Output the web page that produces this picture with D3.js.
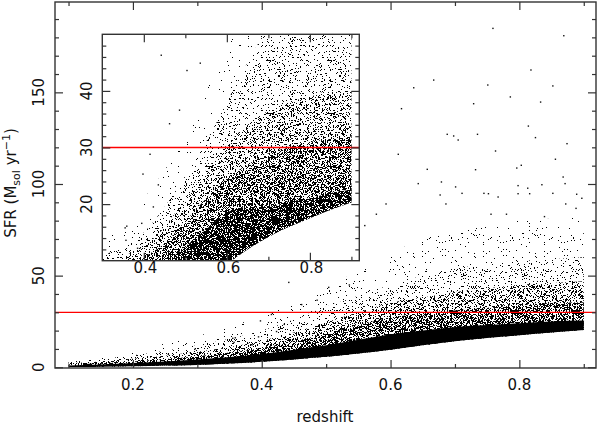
<!DOCTYPE html>
<html><head><meta charset="utf-8">
<script src="https://cdn.jsdelivr.net/npm/d3@7"></script>
<style>html,body{margin:0;padding:0;background:#fff;} svg{display:block;font-family:"DejaVu Sans",sans-serif;}</style>
</head><body><svg id="c" width="598" height="425"></svg>
<script>
// ---------------- data ----------------
// redshift grid on which the edges of the point cloud were read
const redshiftGrid = [0.10,0.15,0.20,0.25,0.30,0.35,0.40,0.45,0.50,0.55,0.60,0.65,0.70,0.75,0.80,0.85,0.90];
// sharp lower edge of the SFR cloud
const sfrLowerEdge = [0.1,0.3,0.5,0.9,1.3,2.0,3.0,4.3,5.7,7.5,9.5,12.0,14.2,16.0,17.5,19.0,20.3];
// main panel: upper limits of the density zones of the cloud (solid, dense, medium, sparse, faint)
const mainCoreTop   = [1.0,1.5,2.3,3.2,4.3,5.6,7.2,9.5,12,15,18,20,22,23,24,25,25.5];
const mainDenseTop  = [1.5,2.2,3.2,4.5,6.0,8.0,10.5,14,18.5,23,27,29.5,31,32.5,34,35,35.5];
const mainMediumTop = [2.2,3.2,4.6,6.3,8.5,11,14.5,19,24.5,30,35,38,41,43,45,46,47];
const mainSparseTop = [3.0,4.5,6.5,9,12,15.5,20,26,33,39,45,50,54,56,58,59,60];
const mainFaintTop  = [4.0,6.0,9.0,13,17,22,28,35,43,53,62,70,75,78,80,81,82];
// inset panel (zoomed view): upper limits of the density zones
const insetCoreTop   = [0.8,1.2,1.8,2.5,3.5,5,7,9.5,12.5,15.5,18.5,19.5,19.5,20.5,21,22,22.5];
const insetDenseTop  = [1,1.5,2.2,3,4.5,6.5,10.5,13,17,21,24.5,27,29,30,31,31.5,32];
const insetMediumTop = [1.5,2,3,4,6,10.5,12.5,16,21,26,30.5,34,36.5,38,39,40,40];
const insetSparseTop = [2,3,4,5.5,10.5,12.5,15,19.5,25,31,38,45,51,53,53,53,53];
const insetFaintTop  = [3,4.5,6.5,9,13,17,21,26,32,40,48,56,70,75,80,81,82];
// isolated points outside the cloud
const outlierZ   = [0.759,0.869,0.667,0.636,0.751,0.852,0.818,0.786,0.833,0.729,0.617,0.814,0.688,0.698,0.705,0.735,0.825,0.874,0.612,0.763,0.856,0.657,0.732,0.796,0.803,0.868,0.643,0.679,0.701,0.798,0.813,0.835,0.871,0.677,0.711,0.745,0.752,0.767,0.798,0.816,0.852,0.889,0.897,0.593,0.686,0.756,0.780,0.578,0.560,0.839,0.872,0.888,
                    0.442,0.504,0.536,0.486,0.462,0.415,0.398,0.435,0.423,0.395,0.359,0.357,0.385,0.355,0.255,0.296];
const outlierSFR = [184.9,180.9,156.7,152.5,154.0,153.5,162.2,147.5,144.7,143.8,141.1,131.6,127.1,126.2,124.0,127.1,125.3,122.0,116.2,118.0,113.5,108.0,107.8,108.7,110.2,103.8,100.2,101.1,98.4,99.1,97.7,99.6,100.2,94.0,94.9,94.9,94.7,92.9,94.7,94.7,94.9,94.4,92.2,89.1,89.1,83.5,83.5,83.5,77.3,82.2,89.1,86.7,
                    46.3,43.6,44.9,36.6,34.2,28.8,25.3,23.4,19.5,16.6,16.1,13.6,12.2,15.8,7.0,9.8];
const sfrCut = 30;
// ticks
const mainXMajor = [0.2,0.4,0.6,0.8];
const mainXMinor = [0.1,0.3,0.5,0.7,0.9];
const mainYMajor = [0,50,100,150];
const mainYMinor = [10,20,30,40,60,70,80,90,110,120,130,140,160,170,180,190];
const insetXMajor = [0.4,0.6,0.8];
const insetXMinor = [0.5,0.7,0.9];
const insetYMajor = [20,30,40];
const insetYMinor = [12,14,16,18,22,24,26,28,32,34,36,38,42,44,46,48];
const xTitle = "redshift";

// ---------------- drawing ----------------
const svg = d3.select("#c");
const defs = svg.append("defs");
const M = {l:55, r:596, t:2, b:368};
const I = {l:102.3, r:359.3, t:34.3, b:260.7};
const mx = d3.scaleLinear([0.079,0.919],[M.l,M.r]);
const my = d3.scaleLinear([-0.4,199.3],[M.b,M.t]);
const ix = d3.scaleLinear([0.3,0.919],[I.l,I.r]);
const iy = d3.scaleLinear([10,50],[I.b,I.t]);

// dot texture used to render the point density (style only)
function hash(n){ n = Math.imul(n ^ (n>>>16), 0x45d9f3b); n = Math.imul(n ^ (n>>>16), 0x45d9f3b); return (n ^ (n>>>16))>>>0; }
function texture(id, coverage, seed){
  const W=61,H=53,A=W*H;
  const n = Math.round(-A*Math.log(1-coverage));
  let d="";
  for(let i=0;i<n;i++){
    const px = hash(i*7919 + seed*104729 + 1) % W;
    const py = hash(i*6271 + seed*130363 + 7) % H;
    d += `M${px} ${py}h1v1h-1z`;
  }
  const p = defs.append("pattern").attr("id",id).attr("patternUnits","userSpaceOnUse").attr("width",W).attr("height",H);
  p.append("path").attr("d",d).attr("fill","#000").attr("shape-rendering","crispEdges");
}
texture("tFaint",0.025,1); texture("tSparse",0.077,2); texture("tMedium",0.22,3);
texture("tDenseM",0.36,4); texture("tDenseI",0.30,5); texture("tCoreI",0.55,6);
texture("tFaint2",0.012,11); texture("tSparse2",0.09,12); texture("tMedium2",0.167,13);

defs.append("clipPath").attr("id","clipM").append("rect").attr("x",M.l).attr("y",M.t).attr("width",M.r-M.l).attr("height",M.b-M.t);
defs.append("clipPath").attr("id","clipI").append("rect").attr("x",I.l).attr("y",I.t).attr("width",I.r-I.l).attr("height",I.b-I.t);

function drawCloud(g, X, Y, layers){
  layers.forEach(([top, fill])=>{
    const data = redshiftGrid.map((z,i)=>({z, lo:sfrLowerEdge[i], hi:top[i]}));
    const area = d3.area().x(d=>X(d.z)).y0(d=>Y(d.lo)).y1(d=>Y(d.hi)).curve(d3.curveMonotoneX);
    g.append("path").attr("d",area(data)).attr("fill",fill);
  });
  const pts = outlierZ.map((z,i)=>({z, s:outlierSFR[i]}));
  g.selectAll("rect.o").data(pts).join("rect").attr("class","o")
    .attr("x",d=>X(d.z)-0.7).attr("y",d=>Y(d.s)-0.7).attr("width",1.4).attr("height",1.4).attr("fill","#111");
}

function frameAxes(X, Y, B, xMaj, xMin, yMaj, yMin){
  const tk = (g)=>{ g.select(".domain").remove(); g.selectAll("line").attr("stroke","#333").attr("stroke-width",1.2); };
  svg.append("g").attr("transform",`translate(0,${B.b})`).call(d3.axisBottom(X).tickValues(xMaj).tickSize(-8).tickFormat("")).call(tk);
  svg.append("g").attr("transform",`translate(0,${B.b})`).call(d3.axisBottom(X).tickValues(xMin).tickSize(-4).tickFormat("")).call(tk);
  svg.append("g").attr("transform",`translate(0,${B.t})`).call(d3.axisTop(X).tickValues(xMaj).tickSize(-8).tickFormat("")).call(tk);
  svg.append("g").attr("transform",`translate(0,${B.t})`).call(d3.axisTop(X).tickValues(xMin).tickSize(-4).tickFormat("")).call(tk);
  svg.append("g").attr("transform",`translate(${B.l},0)`).call(d3.axisLeft(Y).tickValues(yMaj).tickSize(-8).tickFormat("")).call(tk);
  svg.append("g").attr("transform",`translate(${B.l},0)`).call(d3.axisLeft(Y).tickValues(yMin).tickSize(-4).tickFormat("")).call(tk);
  svg.append("g").attr("transform",`translate(${B.r},0)`).call(d3.axisRight(Y).tickValues(yMaj).tickSize(-8).tickFormat("")).call(tk);
  svg.append("g").attr("transform",`translate(${B.r},0)`).call(d3.axisRight(Y).tickValues(yMin).tickSize(-4).tickFormat("")).call(tk);
  svg.append("rect").attr("x",B.l).attr("y",B.t).attr("width",B.r-B.l).attr("height",B.b-B.t)
    .attr("fill","none").attr("stroke","#333").attr("stroke-width",1.4);
}

// ---- main panel ----
const gm = svg.append("g").attr("clip-path","url(#clipM)");
drawCloud(gm, mx, my, [[mainFaintTop,"url(#tFaint)"],[mainSparseTop,"url(#tSparse)"],[mainMediumTop,"url(#tMedium)"],[mainDenseTop,"url(#tDenseM)"],[mainCoreTop,"#000"]]);
gm.append("line").attr("x1",M.l).attr("x2",M.r).attr("y1",my(sfrCut)).attr("y2",my(sfrCut)).attr("stroke","#ff0000").attr("stroke-width",1.3);
frameAxes(mx, my, M, mainXMajor, mainXMinor, mainYMajor, mainYMinor);

const fmt = d3.format(".1f");
svg.append("g").selectAll("text").data(mainXMajor).join("text")
  .attr("x",d=>mx(d)).attr("y",390).attr("text-anchor","middle").attr("font-size",15).attr("fill","#111").text(fmt);
svg.append("g").selectAll("text").data(mainYMajor).join("text")
  .attr("transform",d=>`translate(43.5,${my(d)}) rotate(-90)`).attr("text-anchor","middle").attr("font-size",15).attr("fill","#111").text(d=>d);
svg.append("text").attr("x",325).attr("y",422).attr("text-anchor","middle").attr("font-size",15).attr("fill","#111").text(xTitle);
const yt = svg.append("text").attr("transform","translate(16,183) rotate(-90)").attr("text-anchor","middle").attr("font-size",15).attr("fill","#111");
yt.append("tspan").text("SFR (M");
yt.append("tspan").attr("dy",4).attr("font-size",11).text("sol");
yt.append("tspan").attr("dy",-4).text(" yr");
yt.append("tspan").attr("dy",-6).attr("font-size",11).text("\u22121");
yt.append("tspan").attr("dy",6).text(")");

// ---- inset panel ----
svg.append("rect").attr("x",I.l).attr("y",I.t).attr("width",I.r-I.l).attr("height",I.b-I.t).attr("fill","#fff");
const gi = svg.append("g").attr("clip-path","url(#clipI)");
drawCloud(gi, ix, iy, [[insetFaintTop,"url(#tFaint2)"],[insetSparseTop,"url(#tSparse2)"],[insetMediumTop,"url(#tMedium2)"],[insetDenseTop,"url(#tDenseI)"],[insetCoreTop,"url(#tCoreI)"]]);
gi.append("line").attr("x1",I.l).attr("x2",I.r).attr("y1",iy(sfrCut)).attr("y2",iy(sfrCut)).attr("stroke","#ff0000").attr("stroke-width",1.3);
frameAxes(ix, iy, I, insetXMajor, insetXMinor, insetYMajor, insetYMinor);
svg.append("g").selectAll("text").data(insetXMajor).join("text")
  .attr("x",d=>ix(d)+1.5).attr("y",273).attr("text-anchor","middle").attr("font-size",15).attr("fill","#111").text(fmt);
svg.append("g").selectAll("text").data(insetYMajor).join("text")
  .attr("transform",d=>`translate(91.5,${iy(d)}) rotate(-90)`).attr("text-anchor","middle").attr("font-size",15).attr("fill","#111").text(d=>d);
</script></body></html>
